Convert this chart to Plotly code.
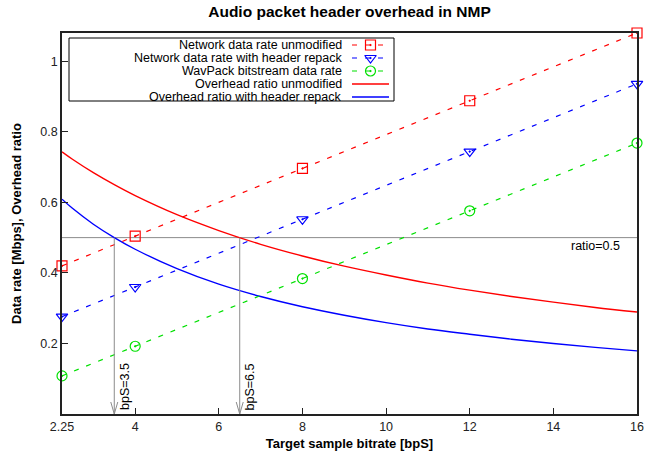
import plotly.graph_objects as go

# ---- data ----
bps_points = [2.25, 4, 8, 12, 16]
net_unmod = [0.420, 0.504, 0.696, 0.888, 1.080]
net_repack = [0.276, 0.360, 0.552, 0.744, 0.936]
wavpack = [0.108, 0.192, 0.384, 0.576, 0.768]

bps_curve = [2.25, 2.5, 3, 3.5, 4, 5, 6, 7, 8, 9, 10, 11, 12, 13, 14, 15, 16]
ratio_unmod = [0.743, 0.722, 0.684, 0.650, 0.619, 0.565, 0.520, 0.481, 0.448,
               0.419, 0.394, 0.371, 0.351, 0.333, 0.317, 0.302, 0.289]
ratio_repack = [0.609, 0.583, 0.538, 0.500, 0.467, 0.412, 0.368, 0.333, 0.304,
                0.280, 0.259, 0.241, 0.226, 0.212, 0.200, 0.189, 0.179]

ratio_level = 0.5
crossings = [3.5, 6.5]
crossing_labels = ["bpS=3.5", "bpS=6.5"]

x_ticks = [2.25, 4, 6, 8, 10, 12, 14, 16]
x_ticktext = ["2.25", "4", "6", "8", "10", "12", "14", "16"]
y_ticks = [0.2, 0.4, 0.6, 0.8, 1.0]
y_ticktext = ["0.2", "0.4", "0.6", "0.8", "1"]

legend_names = ["Network data rate unmodified",
                "Network data rate with header repack",
                "WavPack bitstream data rate",
                "Overhead ratio unmodified",
                "Overhead ratio with header repack"]

RED = "#ff0000"
BLUE = "#0000ff"
GREEN = "#00e000"
GREY = "#8c8c8c"
DASH = "5px,8px"
FONT = "Liberation Sans, Arial, Helvetica, sans-serif"

W, H = 647, 454
L, R, T, B = 62, 10, 33, 40

fig = go.Figure()

fig.add_trace(go.Scatter(x=bps_curve, y=ratio_unmod, mode="lines", line_shape="spline",
                         line=dict(color=RED, width=1.4), showlegend=False, hoverinfo="skip"))
fig.add_trace(go.Scatter(x=bps_curve, y=ratio_repack, mode="lines", line_shape="spline",
                         line=dict(color=BLUE, width=1.4), showlegend=False, hoverinfo="skip"))

series = [(net_unmod, RED, "square-open-dot"),
          (net_repack, BLUE, "triangle-down-open-dot"),
          (wavpack, GREEN, "circle-open-dot")]
for vals, col, sym in series:
    fig.add_trace(go.Scatter(x=bps_points, y=vals, mode="lines+markers",
                             line=dict(color=col, width=1.2, dash=DASH),
                             marker=dict(symbol=sym, size=10, color=col, line=dict(width=1.2, color=col)),
                             showlegend=False, cliponaxis=False, hoverinfo="skip"))

# ---- reference lines / arrows ----
shapes = []
annotations = []
shapes.append(dict(type="line", xref="x", yref="y", x0=x_ticks[0], x1=x_ticks[-1],
                   y0=ratio_level, y1=ratio_level, line=dict(color=GREY, width=1), layer="below"))
for xc, lab in zip(crossings, crossing_labels):
    shapes.append(dict(type="line", xref="x", yref="y", x0=xc, x1=xc, y0=ratio_level, y1=0,
                       line=dict(color=GREY, width=1)))
    shapes.append(dict(type="path", xref="x", yref="y", xsizemode="pixel", ysizemode="pixel",
                       xanchor=xc, yanchor=0, path="M-3.5,12 L0,0 L3.5,12",
                       line=dict(color=GREY, width=1)))
    annotations.append(dict(x=xc, y=0.005, xref="x", yref="y", text=lab, showarrow=False,
                            textangle=-90, xanchor="left", yanchor="bottom", xshift=1,
                            font=dict(family=FONT, size=12.5, color="black")))
annotations.append(dict(x=15.65, y=ratio_level, xref="x", yref="y", text="ratio=0.5",
                        showarrow=False, xanchor="right", yanchor="middle", yshift=-8,
                        font=dict(family=FONT, size=12.5, color="black")))

# ---- gnuplot-style legend (text left, sample right), in pixel space via overlay axes ----
shapes.append(dict(type="rect", xref="x2", yref="y2", x0=69, x1=394, y0=38, y1=101,
                   line=dict(color="black", width=1), fillcolor="white", layer="below"))
rows = [45, 58, 71, 84, 97]
styles = [(RED, DASH, "square-open-dot"), (BLUE, DASH, "triangle-down-open-dot"),
          (GREEN, DASH, "circle-open-dot"), (RED, None, None), (BLUE, None, None)]
mk_x, mk_y, mk_sym, mk_col = [], [], [], []
for name, ry, (col, dash, sym) in zip(legend_names, rows, styles):
    annotations.append(dict(x=344, y=ry, xref="x2", yref="y2", text=name, showarrow=False,
                            xanchor="right", yanchor="middle",
                            font=dict(family=FONT, size=12.5, color="black")))
    ln = dict(color=col, width=1.2 if dash else 1.4)
    if dash:
        ln["dash"] = dash
    shapes.append(dict(type="line", xref="x2", yref="y2", x0=352, x1=389, y0=ry, y1=ry,
                       line=ln, layer="above"))
    if sym:
        mk_x.append(370.5); mk_y.append(ry); mk_sym.append(sym); mk_col.append(col)

fig.add_trace(go.Scatter(x=mk_x, y=mk_y, xaxis="x2", yaxis="y2", mode="markers",
                         marker=dict(symbol=mk_sym, size=10, color=mk_col,
                                     line=dict(width=1.2, color=mk_col)),
                         showlegend=False, hoverinfo="skip", cliponaxis=False))

axis_common = dict(showgrid=False, zeroline=False, showline=True, mirror=True,
                   linecolor="#222222", linewidth=1.5, ticks="inside", ticklen=6,
                   tickcolor="#222222", tickwidth=1,
                   tickfont=dict(family=FONT, size=12.5, color="#222222"))

fig.update_layout(
    width=W, height=H,
    margin=dict(l=L, r=R, t=T, b=B, autoexpand=False),
    plot_bgcolor="white", paper_bgcolor="white",
    showlegend=False,
    title=dict(text="<b>Audio packet header overhead in NMP</b>", x=(L + (W - R)) / 2 / W,
               xanchor="center", y=1 - 12 / H, yanchor="middle",
               font=dict(family=FONT, size=15.5, color="black")),
    xaxis=dict(range=[x_ticks[0], x_ticks[-1]], tickvals=x_ticks, ticktext=x_ticktext,
               title=dict(text="<b>Target sample bitrate [bpS]</b>", standoff=6,
                          font=dict(family=FONT, size=13, color="black")),
               **axis_common),
    yaxis=dict(range=[0, 1.08], tickvals=y_ticks, ticktext=y_ticktext,
               title=dict(text="<b>Data rate [Mbps], Overhead ratio</b>", standoff=16,
                          font=dict(family=FONT, size=13, color="black")),
               **axis_common),
    xaxis2=dict(range=[L, W - R], overlaying="x", anchor="y2", visible=False, fixedrange=True),
    yaxis2=dict(range=[H - B, T], overlaying="y", anchor="x2", visible=False, fixedrange=True),
    shapes=shapes,
    annotations=annotations,
)

fig.write_html("out.html", config={"displayModeBar": False},
               post_script="document.body.style.margin='0';document.body.style.padding='0';"
                           "document.body.style.overflow='hidden';")
